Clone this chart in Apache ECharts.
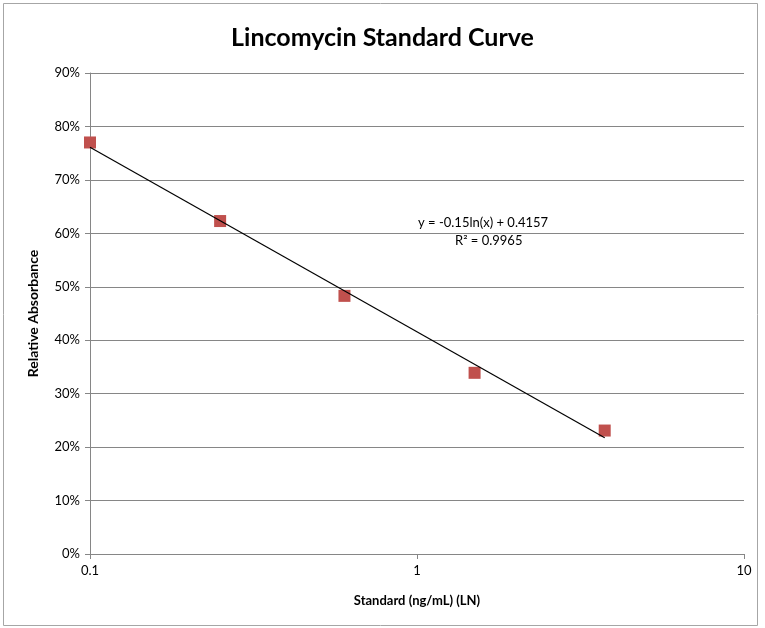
<!DOCTYPE html>
<html>
<head>
<meta charset="utf-8">
<script src="https://cdn.jsdelivr.net/npm/echarts@6/dist/echarts.min.js"></script>
<style>
html,body{margin:0;padding:0;background:#fff;}
#c{width:765px;height:628px;}
</style>
</head>
<body>
<div id="c"></div>
<script>
const standards = [0.1, 0.25, 0.6, 1.5, 3.75];
const absorbance = [0.770, 0.623, 0.483, 0.339, 0.231];
const trendX = [0.1, 3.75];
const trendY = [0.7611, 0.2174];
const equationText = 'y = -0.15ln(x) + 0.4157';
const r2Text = 'R² = 0.9965';
const yTicks = [0, 0.9, 0.1];

const font = 'Lato, "Open Sans", sans-serif';
const chart = echarts.init(document.getElementById('c'));
chart.setOption({
  animation: false,
  backgroundColor: '#fff',
  title: {
    text: 'Lincomycin Standard Curve',
    left: 'center', top: 20,
    textStyle: {fontFamily: font, fontSize: 25, fontWeight: 'bold', color: '#000'}
  },
  grid: {left: 90, right: 21, top: 73, bottom: 74},
  xAxis: {
    type: 'log', logBase: 10, min: 0.1, max: 10,
    name: 'Standard (ng/mL) (LN)', nameLocation: 'middle', nameGap: 40,
    nameTextStyle: {fontFamily: font, fontSize: 13, fontWeight: 'bold', color: '#000'},
    axisLine: {lineStyle: {color: '#868686'}},
    axisTick: {show: true, length: 5, lineStyle: {color: '#868686'}},
    minorTick: {show: false},
    splitLine: {show: false},
    axisLabel: {fontFamily: font, fontSize: 13, color: '#000', margin: 10,
      formatter: v => String(Math.round(v * 10) / 10)}
  },
  yAxis: {
    type: 'value', min: yTicks[0], max: yTicks[1], interval: yTicks[2],
    name: 'Relative Absorbance', nameLocation: 'middle', nameGap: 50,
    nameTextStyle: {fontFamily: font, fontSize: 14, fontWeight: 'bold', color: '#000'},
    axisLine: {show: true, lineStyle: {color: '#868686'}},
    axisTick: {show: true, length: 5, lineStyle: {color: '#868686'}},
    splitLine: {show: true, lineStyle: {color: '#868686', width: 1}},
    axisLabel: {fontFamily: font, fontSize: 13, color: '#000', margin: 10,
      formatter: v => Math.round(v * 100) + '%'}
  },
  series: [
    {
      type: 'line', data: trendX.map((x, i) => [x, trendY[i]]),
      symbol: 'none', lineStyle: {color: '#000', width: 1.2}, z: 3
    },
    {
      type: 'scatter', data: standards.map((x, i) => [x, absorbance[i]]),
      symbol: 'rect', symbolSize: 12, itemStyle: {color: '#C0504D', opacity: 1}, z: 2
    }
  ],
  graphic: [
    {type: 'rect', shape: {x: 3.5, y: 3.5, width: 754, height: 622},
     style: {fill: 'none', stroke: '#a6a6a6', lineWidth: 1}, silent: true},
    {type: 'text', left: 418, top: 216,
     style: {text: equationText, font: '13px ' + font, fill: '#000'}},
    {type: 'text', left: 455, top: 234,
     style: {text: r2Text, font: '13px ' + font, fill: '#000'}}
  ]
});
</script>
</body>
</html>
